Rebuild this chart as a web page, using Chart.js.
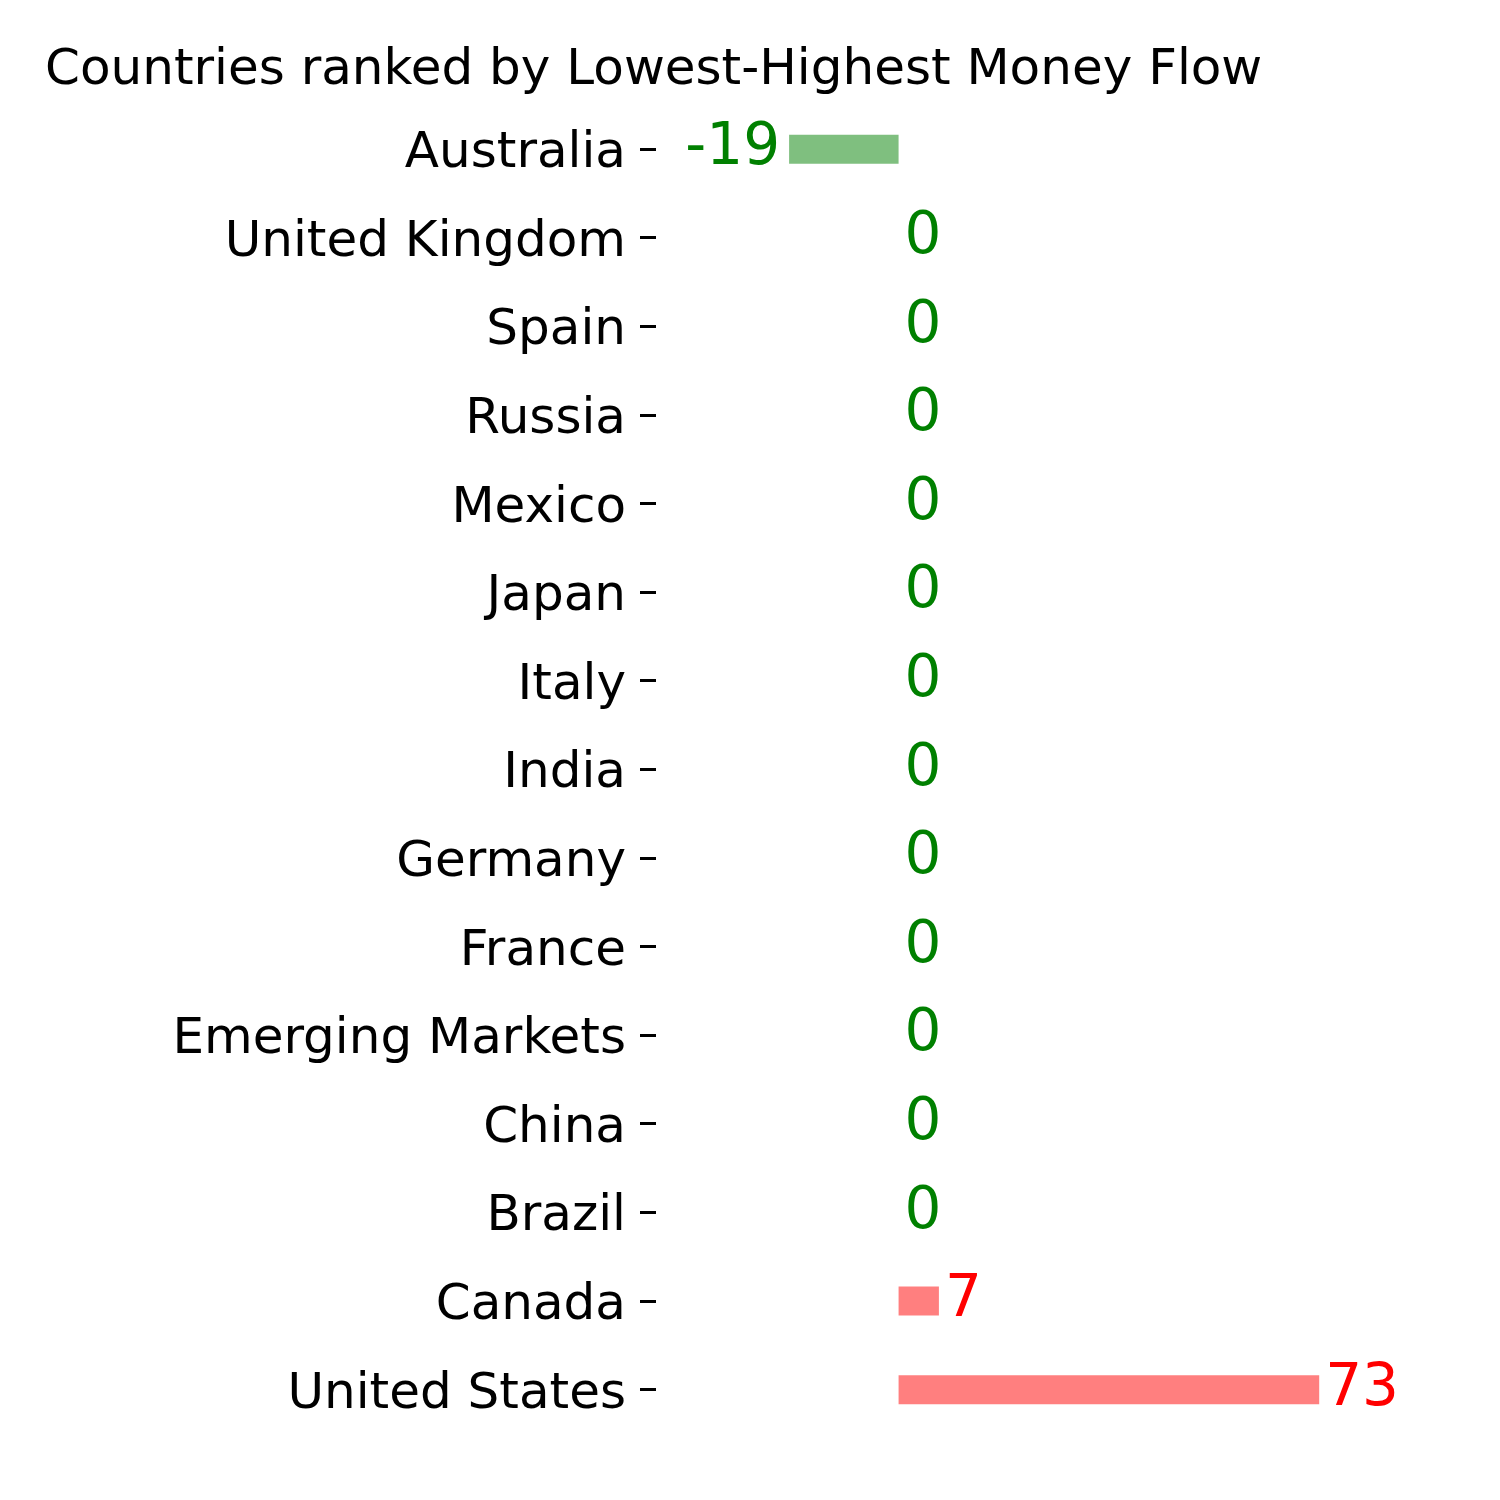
<!DOCTYPE html>
<html>
<head>
<meta charset="utf-8">
<script src="https://cdn.jsdelivr.net/npm/chart.js@4"></script>
<style>
  body { margin: 0; background: #fff; }
  canvas { display: block; }
</style>
</head>
<body>
<canvas id="flowChart" width="1500" height="1500"></canvas>
<script>
const countries = ['Australia', 'United Kingdom', 'Spain', 'Russia', 'Mexico', 'Japan', 'Italy',
  'India', 'Germany', 'France', 'Emerging Markets', 'China', 'Brazil', 'Canada', 'United States'];
const moneyFlow = [-19, 0, 0, 0, 0, 0, 0, 0, 0, 0, 0, 0, 0, 7, 73];

const FONT = 'DejaVu Sans';
const barColor = (v) => (v > 0 ? 'rgba(255,0,0,0.5)' : 'rgba(0,128,0,0.5)');
const textColor = (v) => (v > 0 ? '#ff0000' : '#008000');

// value labels next to each bar
const valueLabels = {
  id: 'valueLabels',
  afterDatasetsDraw: (chart) => {
    const ctx = chart.ctx;
    const meta = chart.getDatasetMeta(0);
    ctx.save();
    ctx.font = `58px "${FONT}"`;
    ctx.textBaseline = 'middle';
    meta.data.forEach((bar, i) => {
      const v = moneyFlow[i];
      ctx.fillStyle = textColor(v);
      if (v < 0) {
        ctx.textAlign = 'right';
        ctx.fillText(String(v), bar.x - 9, bar.y);
      } else {
        ctx.textAlign = 'left';
        ctx.fillText(String(v), bar.x + 6, bar.y);
      }
    });
    ctx.restore();
  }
};

new Chart(document.getElementById('flowChart'), {
  type: 'bar',
  data: {
    labels: countries,
    datasets: [{
      data: moneyFlow,
      backgroundColor: moneyFlow.map(barColor),
      borderWidth: 0,
      inflateAmount: 0,
      barThickness: 29
    }]
  },
  options: {
    indexAxis: 'y',
    responsive: false,
    animation: false,
    layout: { padding: { left: 45, right: 50, top: 10, bottom: 66 } },
    plugins: {
      legend: { display: false },
      tooltip: { enabled: false },
      title: {
        display: true,
        text: 'Countries ranked by Lowest-Highest Money Flow',
        align: 'start',
        color: '#000',
        font: { family: FONT, size: 50, weight: 'normal' },
        padding: { top: 31, bottom: 4 }
      }
    },
    scales: {
      x: { display: false, min: -42.1, max: 95.7 },
      y: {
        afterFit: (s) => { s.width = 611; },
        border: { display: false },
        grid: { offset: false, drawOnChartArea: false, drawTicks: true, tickLength: 16, color: '#000', lineWidth: 3 },
        ticks: { color: '#000', padding: 14, labelOffset: 5, font: { family: FONT, size: 50 } }
      }
    }
  },
  plugins: [valueLabels]
});
</script>
</body>
</html>
